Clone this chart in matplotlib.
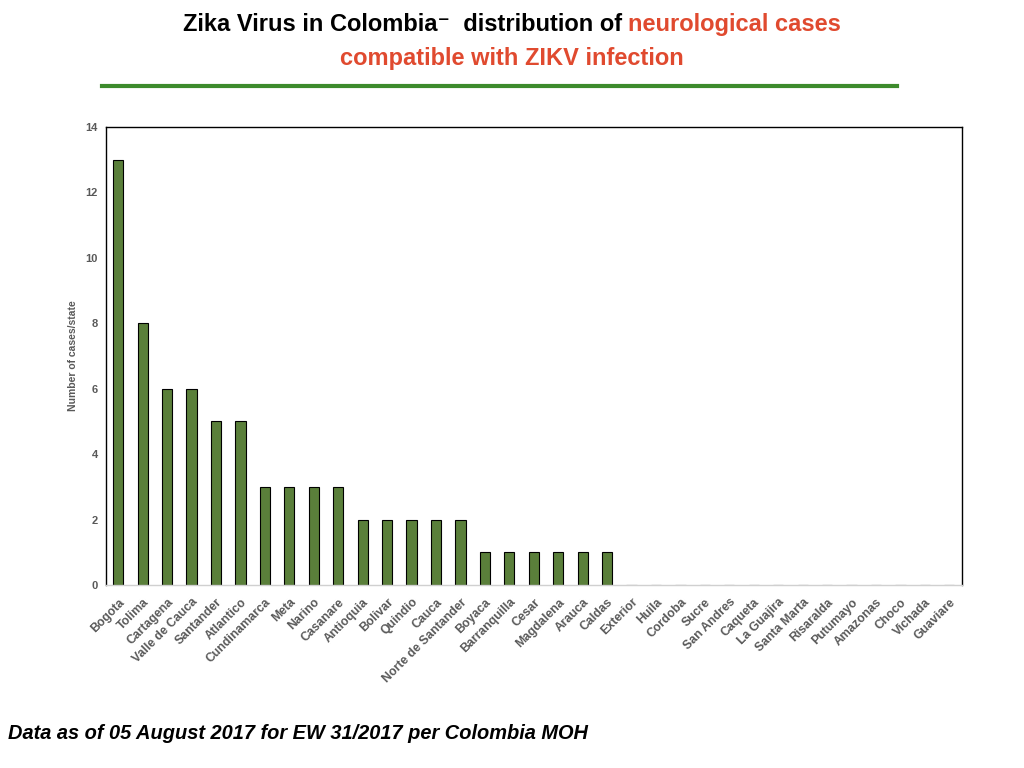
import matplotlib
matplotlib.use('Agg')
import matplotlib.pyplot as plt
from matplotlib.lines import Line2D

states = ['Bogota', 'Tolima', 'Cartagena', 'Valle de Cauca', 'Santander', 'Atlantico',
          'Cundinamarca', 'Meta', 'Narino', 'Casanare', 'Antioquia', 'Bolivar', 'Quindio',
          'Cauca', 'Norte de Santander', 'Boyaca', 'Barranquilla', 'Cesar', 'Magdalena',
          'Arauca', 'Caldas', 'Exterior', 'Huila', 'Cordoba', 'Sucre', 'San Andres',
          'Caqueta', 'La Guajira', 'Santa Marta', 'Risaralda', 'Putumayo', 'Amazonas',
          'Choco', 'Vichada', 'Guaviare']
cases = [13, 8, 6, 6, 5, 5, 3, 3, 3, 3, 2, 2, 2, 2, 2, 1, 1, 1, 1, 1, 1,
         0, 0, 0, 0, 0, 0, 0, 0, 0, 0, 0, 0, 0, 0]
yticks = [0, 2, 4, 6, 8, 10, 12, 14]

plt.rcParams['font.family'] = ['Liberation Sans', 'DejaVu Sans']
gray = '#595959'
red = '#e04a2f'

fig = plt.figure(figsize=(10.24, 7.68), dpi=100)
ax = fig.add_axes([0.1035, 0.2383, 0.8355, 0.5963])

x = list(range(len(states)))
ax.bar(x, cases, width=0.42, color='#5a7f3a', edgecolor='black', linewidth=0.8)
ax.set_xlim(-0.5, len(states) - 0.5)
ax.set_ylim(0, 14)
ax.set_yticks(yticks)
ax.set_yticklabels([str(v) for v in yticks], fontsize=8, fontweight='bold', color=gray)
ax.set_xticks(x)
ax.set_xticklabels(states, rotation=45, ha='right', rotation_mode='anchor',
                   fontsize=8.8, fontweight='bold', color=gray)
ax.tick_params(axis='both', length=0, pad=6)
ax.tick_params(axis='x', pad=8)
ax.set_ylabel('Number of cases/state', fontsize=7.5, fontweight='bold', color=gray, labelpad=5)
for s in ['left', 'right', 'top']:
    ax.spines[s].set_linewidth(1.0)
ax.spines['bottom'].set_color('#d0d0d0')
ax.spines['bottom'].set_linewidth(1.0)

# title in two colours
fig.canvas.draw()
r = fig.canvas.get_renderer()
t1 = fig.text(0, 0, 'Zika Virus in Colombia\u207b  distribution of ', fontsize=17,
              fontweight='bold', color='black', va='baseline')
t2 = fig.text(0, 0, 'neurological cases', fontsize=17, fontweight='bold', color=red,
              va='baseline')
w1 = t1.get_window_extent(r).width / fig.bbox.width
w2 = t2.get_window_extent(r).width / fig.bbox.width
x0 = 0.5 - (w1 + w2) / 2
yb = 1 - 31 / 768
t1.set_position((x0, yb))
t2.set_position((x0 + w1, yb))
fig.text(0.5, 1 - 65 / 768, 'compatible with ZIKV infection', fontsize=17,
         fontweight='bold', color=red, ha='center', va='baseline')

fig.add_artist(Line2D([102 / 1024, 897 / 1024], [1 - 86 / 768, 1 - 86 / 768],
                      color='#3d8b2c', linewidth=3, transform=fig.transFigure))

fig.text(8 / 1024, 1 - 739 / 768, 'Data as of 05 August 2017 for EW 31/2017 per Colombia MOH',
         fontsize=14.4, fontweight='bold', fontstyle='italic', color='black', va='baseline')

fig.savefig('out.png', dpi=100)
